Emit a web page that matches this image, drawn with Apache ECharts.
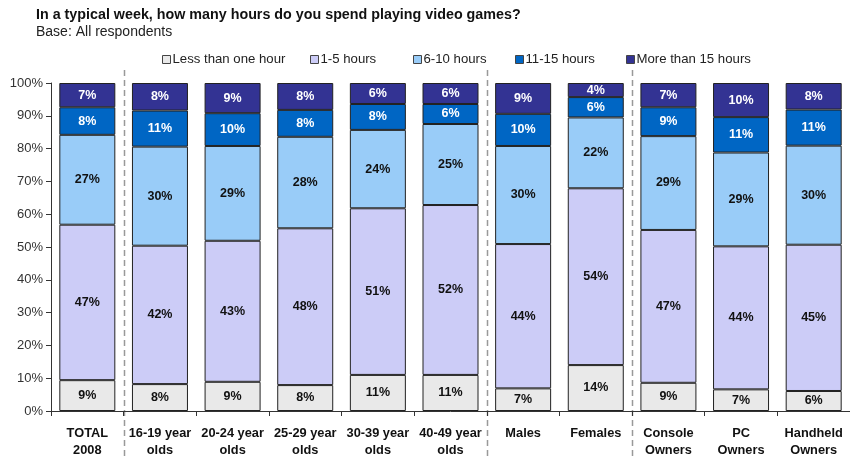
<!DOCTYPE html>
<html>
<head>
<meta charset="utf-8">
<script src="https://cdn.jsdelivr.net/npm/echarts@6/dist/echarts.min.js"></script>
<style>
html,body{margin:0;padding:0;background:#fff;}
#c{width:850px;height:459px;}
</style>
</head>
<body>
<div id="c"></div>
<script>
const categories = ['TOTAL\n2008','16-19 year\nolds','20-24 year\nolds','25-29 year\nolds','30-39 year\nolds','40-49 year\nolds','Males','Females','Console\nOwners','PC\nOwners','Handheld\nOwners'];
const seriesNames = ['Less than one hour','1-5 hours','6-10 hours','11-15 hours','More than 15 hours'];
const lessThanOne = [9.4, 8.2, 8.9, 7.9, 11.0, 11.0, 6.9, 14.0, 8.6, 6.6, 6.1];
const oneToFive   = [47.4, 42.2, 43.0, 47.8, 50.8, 51.8, 44.0, 53.9, 46.6, 43.6, 44.6];
const sixToTen    = [27.4, 30.2, 28.9, 27.9, 23.9, 24.7, 29.9, 21.6, 28.6, 28.6, 30.2];
const elevenToFifteen = [8.4, 11.0, 10.0, 8.2, 7.9, 6.1, 9.8, 6.2, 8.8, 10.8, 11.0];
const moreThanFifteen = [7.4, 8.4, 9.2, 8.2, 6.4, 6.4, 9.4, 4.3, 7.4, 10.4, 8.1];
const yTicks = [0,10,20,30,40,50,60,70,80,90,100];
const separatorsAfter = [0, 5, 7];

const font = 'Liberation Sans, Arial, Helvetica, sans-serif';
const colors = ['#e9e9e9','#ccccf7','#99ccf8','#0066c4','#333393'];
const labelColors = ['#111','#111','#111','#fff','#fff'];
const legendLeft = [157, 305, 408, 510, 621];
const data = [lessThanOne, oneToFive, sixToTen, elevenToFifteen, moreThanFifteen];

const chart = echarts.init(document.getElementById('c'), null, {renderer:'canvas'});
const option = {
  animation: false,
  color: colors,
  textStyle: {fontFamily: font},
  title: {
    text: 'In a typical week, how many hours do you spend playing video games?',
    subtext: 'Base: All respondents',
    left: 31, top: 3, itemGap: 3,
    textStyle: {fontFamily: font, fontSize: 14.3, fontWeight: 'bold', color: '#111'},
    subtextStyle: {fontFamily: font, fontSize: 14, color: '#222'}
  },
  legend: seriesNames.map((n, i) => ({
    data: [n],
    left: legendLeft[i], top: 48,
    itemWidth: 8, itemHeight: 8, itemGap: 0,
    icon: 'rect',
    itemStyle: {borderColor: '#444', borderWidth: 1},
    textStyle: {fontFamily: font, fontSize: 13.2, color: '#222', padding: [0,0,0,-3]}
  })),
  grid: {left: 51, top: 83, width: 806, height: 328},
  xAxis: {
    type: 'category',
    data: categories,
    axisLine: {lineStyle: {color: '#333', width: 1}},
    axisTick: {show: true, length: 5, lineStyle: {color: '#333'}},
    axisLabel: {fontFamily: font, fontSize: 12.8, fontWeight: 'bold', color: '#111', lineHeight: 17, margin: 14, interval: 0}
  },
  yAxis: {
    type: 'value', min: 0, max: 100, interval: 10,
    axisLine: {show: true, lineStyle: {color: '#333'}},
    axisTick: {show: true, length: 5, lineStyle: {color: '#333'}},
    splitLine: {show: false},
    axisLabel: {fontFamily: font, fontSize: 13, color: '#333', margin: 8,
      formatter: v => yTicks.indexOf(v) >= 0 ? v + '%' : ''}
  },
  series: seriesNames.map((n, i) => ({
    name: n, type: 'bar', stack: 'a', barWidth: 56,
    data: data[i],
    itemStyle: {color: colors[i], borderColor: '#222', borderWidth: 1},
    label: {show: true, position: 'inside', fontFamily: font, fontSize: 12.5, fontWeight: 'bold',
      color: labelColors[i], formatter: p => Math.round(p.value) + '%'}
  }))
};
chart.setOption(option);

const graphics = separatorsAfter.map(idx => {
  const a = chart.convertToPixel({xAxisIndex:0}, idx);
  const b = chart.convertToPixel({xAxisIndex:0}, idx + 1);
  const x = Math.round((a + b) / 2) + 0.5;
  return {type:'line', shape:{x1:x, y1:70, x2:x, y2:459}, style:{stroke:'#999', lineWidth:1.5, lineDash:[6,4]}, silent:true};
});
chart.setOption({graphic: graphics});
</script>
</body>
</html>
